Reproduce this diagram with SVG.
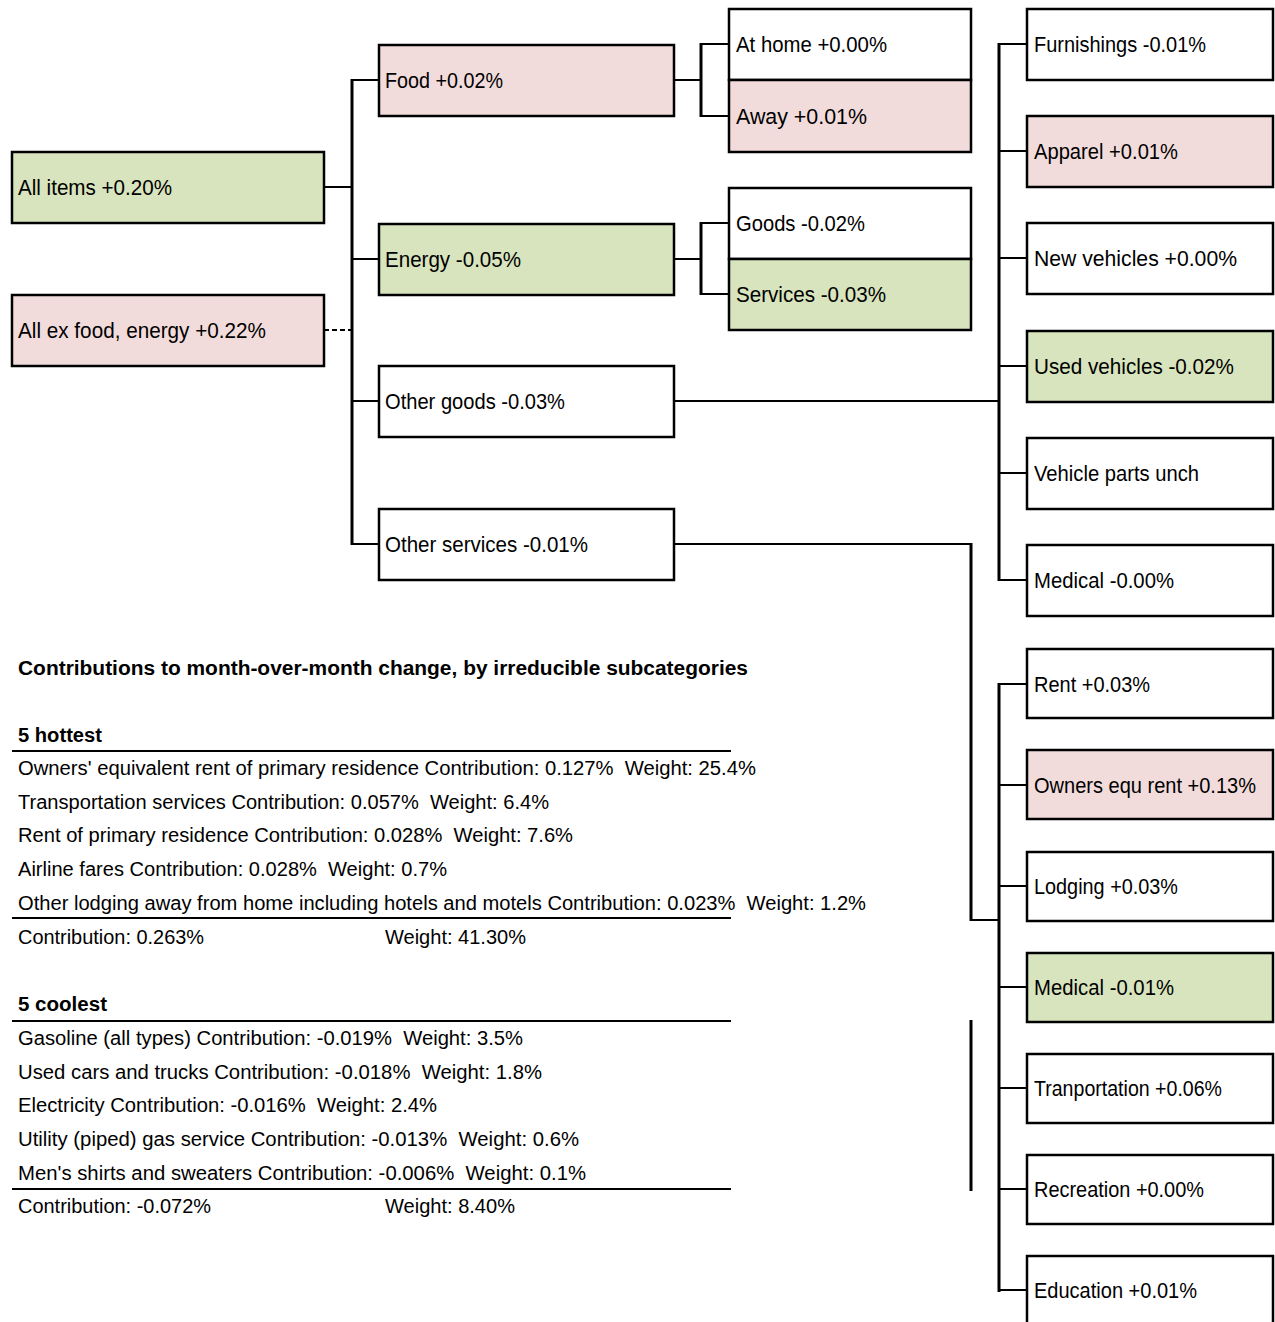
<svg xmlns="http://www.w3.org/2000/svg" width="1275" height="1322" viewBox="0 0 1275 1322">
<style>
.box{stroke:#000;stroke-width:2.5}
.w{fill:#fff}.p{fill:#f2dcdb}.g{fill:#d7e4bd}
.t{font-family:"Liberation Sans",Arial,sans-serif;font-size:22.5px;fill:#000}
.r{font-family:"Liberation Sans",Arial,sans-serif;font-size:20px;fill:#000;white-space:pre}
.b{font-family:"Liberation Sans",Arial,sans-serif;font-size:19.5px;font-weight:bold;fill:#000}
.h{stroke:#000;stroke-width:2;fill:none}
.v{stroke:#000;stroke-width:3;fill:none}
.rule{stroke:#000;stroke-width:2}
</style>
<rect width="1275" height="1322" fill="#fff"/>
<g id="connectors">
<line class="h" x1="324" y1="187" x2="352" y2="187"/>
<line class="h" x1="324" y1="330" x2="352" y2="330" stroke-dasharray="5,3"/>
<line class="v" x1="352" y1="79" x2="352" y2="545"/>
<line class="h" x1="351" y1="80" x2="379" y2="80"/>
<line class="h" x1="351" y1="259" x2="379" y2="259"/>
<line class="h" x1="351" y1="401" x2="379" y2="401"/>
<line class="h" x1="351" y1="544" x2="379" y2="544"/>
<line class="h" x1="674" y1="80" x2="701" y2="80"/>
<line class="v" x1="701" y1="43" x2="701" y2="117"/>
<line class="h" x1="700" y1="44" x2="729" y2="44"/>
<line class="h" x1="700" y1="116" x2="729" y2="116"/>
<line class="h" x1="674" y1="259" x2="701" y2="259"/>
<line class="v" x1="701" y1="222" x2="701" y2="295"/>
<line class="h" x1="700" y1="223" x2="729" y2="223"/>
<line class="h" x1="700" y1="294" x2="729" y2="294"/>
<line class="h" x1="674" y1="401" x2="999" y2="401"/>
<line class="v" x1="999" y1="43" x2="999" y2="581"/>
<line class="h" x1="998" y1="44" x2="1027" y2="44"/>
<line class="h" x1="998" y1="151" x2="1027" y2="151"/>
<line class="h" x1="998" y1="258" x2="1027" y2="258"/>
<line class="h" x1="998" y1="366" x2="1027" y2="366"/>
<line class="h" x1="998" y1="473" x2="1027" y2="473"/>
<line class="h" x1="998" y1="580" x2="1027" y2="580"/>
<line class="h" x1="674" y1="544" x2="971" y2="544"/>
<line class="v" x1="971" y1="543" x2="971" y2="921"/>
<line class="h" x1="970" y1="920" x2="999" y2="920"/>
<line class="v" x1="999" y1="683" x2="999" y2="1292"/>
<line class="h" x1="998" y1="684" x2="1027" y2="684"/>
<line class="h" x1="998" y1="785" x2="1027" y2="785"/>
<line class="h" x1="998" y1="886" x2="1027" y2="886"/>
<line class="h" x1="998" y1="987" x2="1027" y2="987"/>
<line class="h" x1="998" y1="1088" x2="1027" y2="1088"/>
<line class="h" x1="998" y1="1189" x2="1027" y2="1189"/>
<line class="h" x1="998" y1="1290" x2="1027" y2="1290"/>
<line class="v" x1="971" y1="1020" x2="971" y2="1191"/>
</g>
<g id="all-items"><rect class="box g" x="12" y="152" width="312" height="71"/><text class="t" x="18" y="195" textLength="154" lengthAdjust="spacingAndGlyphs">All items +0.20%</text></g>
<g id="all-ex"><rect class="box p" x="12" y="295" width="312" height="71"/><text class="t" x="18" y="338" textLength="248" lengthAdjust="spacingAndGlyphs">All ex food, energy +0.22%</text></g>
<g id="food"><rect class="box p" x="379" y="45" width="295" height="71"/><text class="t" x="385" y="88" textLength="118" lengthAdjust="spacingAndGlyphs">Food +0.02%</text></g>
<g id="energy"><rect class="box g" x="379" y="224" width="295" height="71"/><text class="t" x="385" y="267" textLength="136" lengthAdjust="spacingAndGlyphs">Energy -0.05%</text></g>
<g id="other-goods"><rect class="box w" x="379" y="366" width="295" height="71"/><text class="t" x="385" y="409" textLength="180" lengthAdjust="spacingAndGlyphs">Other goods -0.03%</text></g>
<g id="other-services"><rect class="box w" x="379" y="509" width="295" height="71"/><text class="t" x="385" y="552" textLength="203" lengthAdjust="spacingAndGlyphs">Other services -0.01%</text></g>
<g id="at-home"><rect class="box w" x="729" y="9" width="242" height="71"/><text class="t" x="736" y="52" textLength="151" lengthAdjust="spacingAndGlyphs">At home +0.00%</text></g>
<g id="away"><rect class="box p" x="729" y="80" width="242" height="72"/><text class="t" x="736" y="124" textLength="131" lengthAdjust="spacingAndGlyphs">Away +0.01%</text></g>
<g id="goods"><rect class="box w" x="729" y="188" width="242" height="71"/><text class="t" x="736" y="231" textLength="129" lengthAdjust="spacingAndGlyphs">Goods -0.02%</text></g>
<g id="services"><rect class="box g" x="729" y="259" width="242" height="71"/><text class="t" x="736" y="302" textLength="150" lengthAdjust="spacingAndGlyphs">Services -0.03%</text></g>
<g id="furnishings"><rect class="box w" x="1027" y="9" width="246" height="71"/><text class="t" x="1034" y="52" textLength="172" lengthAdjust="spacingAndGlyphs">Furnishings -0.01%</text></g>
<g id="apparel"><rect class="box p" x="1027" y="116" width="246" height="71"/><text class="t" x="1034" y="159" textLength="144" lengthAdjust="spacingAndGlyphs">Apparel +0.01%</text></g>
<g id="new-vehicles"><rect class="box w" x="1027" y="223" width="246" height="71"/><text class="t" x="1034" y="266" textLength="203" lengthAdjust="spacingAndGlyphs">New vehicles +0.00%</text></g>
<g id="used-vehicles"><rect class="box g" x="1027" y="331" width="246" height="71"/><text class="t" x="1034" y="374" textLength="200" lengthAdjust="spacingAndGlyphs">Used vehicles -0.02%</text></g>
<g id="vehicle-parts"><rect class="box w" x="1027" y="438" width="246" height="71"/><text class="t" x="1034" y="481" textLength="165" lengthAdjust="spacingAndGlyphs">Vehicle parts unch</text></g>
<g id="medical-goods"><rect class="box w" x="1027" y="545" width="246" height="71"/><text class="t" x="1034" y="588" textLength="140" lengthAdjust="spacingAndGlyphs">Medical -0.00%</text></g>
<g id="rent"><rect class="box w" x="1027" y="649" width="246" height="69"/><text class="t" x="1034" y="692" textLength="116" lengthAdjust="spacingAndGlyphs">Rent +0.03%</text></g>
<g id="owners"><rect class="box p" x="1027" y="750" width="246" height="69"/><text class="t" x="1034" y="793" textLength="222" lengthAdjust="spacingAndGlyphs">Owners equ rent +0.13%</text></g>
<g id="lodging"><rect class="box w" x="1027" y="852" width="246" height="69"/><text class="t" x="1034" y="894" textLength="144" lengthAdjust="spacingAndGlyphs">Lodging +0.03%</text></g>
<g id="medical-services"><rect class="box g" x="1027" y="953" width="246" height="69"/><text class="t" x="1034" y="995" textLength="140" lengthAdjust="spacingAndGlyphs">Medical -0.01%</text></g>
<g id="transportation"><rect class="box w" x="1027" y="1054" width="246" height="69"/><text class="t" x="1034" y="1096" textLength="188" lengthAdjust="spacingAndGlyphs">Tranportation +0.06%</text></g>
<g id="recreation"><rect class="box w" x="1027" y="1155" width="246" height="69"/><text class="t" x="1034" y="1197" textLength="170" lengthAdjust="spacingAndGlyphs">Recreation +0.00%</text></g>
<g id="education"><rect class="box w" x="1027" y="1256" width="246" height="69"/><text class="t" x="1034" y="1298" textLength="163" lengthAdjust="spacingAndGlyphs">Education +0.01%</text></g>
<g id="table">
<text class="b" x="18" y="675" textLength="730" lengthAdjust="spacingAndGlyphs">Contributions to month-over-month change, by irreducible subcategories</text>
<text class="b" x="18" y="742" textLength="84" lengthAdjust="spacingAndGlyphs">5 hottest</text>
<line class="rule" x1="12" y1="751" x2="731" y2="751"/>
<text class="r" x="18" y="775" textLength="738" lengthAdjust="spacingAndGlyphs">Owners' equivalent rent of primary residence Contribution: 0.127%  Weight: 25.4%</text>
<text class="r" x="18" y="809" textLength="531" lengthAdjust="spacingAndGlyphs">Transportation services Contribution: 0.057%  Weight: 6.4%</text>
<text class="r" x="18" y="842" textLength="555" lengthAdjust="spacingAndGlyphs">Rent of primary residence Contribution: 0.028%  Weight: 7.6%</text>
<text class="r" x="18" y="876" textLength="429" lengthAdjust="spacingAndGlyphs">Airline fares Contribution: 0.028%  Weight: 0.7%</text>
<text class="r" x="18" y="910" textLength="848" lengthAdjust="spacingAndGlyphs">Other lodging away from home including hotels and motels Contribution: 0.023%  Weight: 1.2%</text>
<line class="rule" x1="12" y1="918" x2="731" y2="918"/>
<text class="r" x="18" y="944" textLength="186" lengthAdjust="spacingAndGlyphs">Contribution: 0.263%</text>
<text class="r" x="385" y="944" textLength="141" lengthAdjust="spacingAndGlyphs">Weight: 41.30%</text>
<text class="b" x="18" y="1011" textLength="89" lengthAdjust="spacingAndGlyphs">5 coolest</text>
<line class="rule" x1="12" y1="1021" x2="731" y2="1021"/>
<text class="r" x="18" y="1045" textLength="505" lengthAdjust="spacingAndGlyphs">Gasoline (all types) Contribution: -0.019%  Weight: 3.5%</text>
<text class="r" x="18" y="1079" textLength="524" lengthAdjust="spacingAndGlyphs">Used cars and trucks Contribution: -0.018%  Weight: 1.8%</text>
<text class="r" x="18" y="1112" textLength="419" lengthAdjust="spacingAndGlyphs">Electricity Contribution: -0.016%  Weight: 2.4%</text>
<text class="r" x="18" y="1146" textLength="561" lengthAdjust="spacingAndGlyphs">Utility (piped) gas service Contribution: -0.013%  Weight: 0.6%</text>
<text class="r" x="18" y="1180" textLength="568" lengthAdjust="spacingAndGlyphs">Men's shirts and sweaters Contribution: -0.006%  Weight: 0.1%</text>
<line class="rule" x1="12" y1="1189" x2="731" y2="1189"/>
<text class="r" x="18" y="1213" textLength="193" lengthAdjust="spacingAndGlyphs">Contribution: -0.072%</text>
<text class="r" x="385" y="1213" textLength="130" lengthAdjust="spacingAndGlyphs">Weight: 8.40%</text>
</g>
</svg>
